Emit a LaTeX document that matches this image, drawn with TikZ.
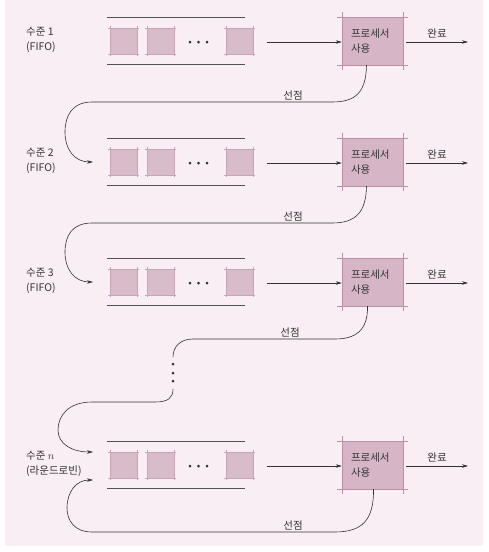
\documentclass[tikz,border=0pt]{standalone}
\usepackage{fontspec}
\setmainfont{Noto Sans CJK KR}
\usetikzlibrary{positioning,arrows.meta,calc}

\definecolor{paper}{HTML}{F8EEF3}
\definecolor{cellfill}{HTML}{D8BCCA}
\definecolor{cellline}{HTML}{C9A3B7}
\definecolor{procfill}{HTML}{D6B6C6}
\definecolor{procline}{HTML}{BC8FA7}
\definecolor{ink}{HTML}{333333}

% edges of a box, run a little past its corners
\newcommand\cropedges[3]{%
  \draw[#3,line width=0.5pt] ($(#1.north west)+(-#2,0)$) -- ($(#1.north east)+(#2,0)$);
  \draw[#3,line width=0.5pt] ($(#1.south west)+(-#2,0)$) -- ($(#1.south east)+(#2,0)$);
  \draw[#3,line width=0.5pt] ($(#1.north west)+(0,-#2)$) -- ($(#1.south west)+(0,#2)$);
  \draw[#3,line width=0.5pt] ($(#1.north east)+(0,-#2)$) -- ($(#1.south east)+(0,#2)$);
}

\begin{document}
\begin{tikzpicture}[x=1pt,y=-1pt,>={Stealth[length=6pt,width=3.5pt]},
  font=\fontsize{10.5pt}{14.5pt}\selectfont, text=ink,
  cell/.style={fill=cellfill,minimum width=27pt,minimum height=26pt,inner sep=0pt},
  procbox/.style={fill=procfill,minimum width=61pt,minimum height=48pt,
    text width=43pt,align=left,inner sep=0pt},
  lvl/.style={anchor=west,align=left,inner sep=0pt},
  rail/.style={draw=ink!85,line width=0.7pt},
  flow/.style={draw=ink,line width=0.6pt,->}]
  \fill[paper] (5,0) rectangle (483,546);
  \useasboundingbox (0,0) rectangle (489,552);

  % one row per level
  \foreach \i/\c/\lab in {1/41/{수준 1\\(FIFO)},2/162/{수준 2\\(FIFO)},
                          3/282/{수준 3\\(FIFO)},n/465/{수준 $n$\\(라운드로빈)}} {
    \node[lvl] (lvl\i) at (26,\c-1) {\lab};
    \draw[rail] (107,\c-24) -- (245,\c-24);
    \draw[rail] (107,\c+23) -- (245,\c+23);
    \node[cell] (cellA\i) at (123.5,\c) {};
    \node[cell] (cellB\i) at (160.5,\c) {};
    \node[cell] (cellC\i) at (239.5,\c) {};
    \cropedges{cellA\i}{2}{cellline}
    \cropedges{cellB\i}{2}{cellline}
    \cropedges{cellC\i}{2}{cellline}
    \foreach \x in {190,198.5,207} {\fill[ink] (\x,\c+1) circle (1.5);}
    \node[procbox] (proc\i) at (372.5,\c) {프로세서\\사용};
    \cropedges{proc\i}{5}{procline}
    \coordinate (qout\i) at (267,\c+1);
    \draw[flow] (qout\i) -- (proc\i.west|-qout\i);
    \coordinate (done\i) at (468,\c+1);
    \draw[flow] ($(proc\i.east)+(3,1)$) -- (done\i)
      node[midway,above,inner sep=4pt] (end\i) {완료};
  }

  % preemption back to the next level
  \coordinate (qin2) at (93,162);
  \coordinate (qin3) at (93,282);
  \coordinate (qinA) at (93,452);
  \coordinate (qinB) at (93,480);
  \draw[flow] ($(proc1.south)+(-6,0)$) .. controls (366,92) and (356,102) .. (332,102)
    -- (92,102) .. controls (72,102) and (65,116) .. (65,132)
    .. controls (65,150) and (75,162) .. (qin2);
  \node[above,inner sep=2pt] (pre1) at (293,102) {선점};
  \draw[flow] ($(proc2.south)+(-6,0)$) .. controls (366,212) and (356,223) .. (332,223)
    -- (92,223) .. controls (72,223) and (65,236) .. (65,252)
    .. controls (65,270) and (75,282) .. (qin3);
  \node[above,inner sep=2pt] (pre2) at (293,223) {선점};
  \coordinate (gapTop) at (173,357);
  \coordinate (gapBot) at (173,389);
  \draw[ink,line width=0.6pt] ($(proc3.south)+(-5,0)$) .. controls (368,330) and (356,339) .. (335,339)
    -- (193,339) .. controls (180,339) and (173,347) .. (gapTop);
  \node[above,inner sep=2pt] (pre3) at (290,339) {선점};
  \foreach \y in {364,373,381} {\fill[ink] (173,\y) circle (1.5);}
  \draw[flow] (gapBot) .. controls (173,398) and (168,402) .. (155,402)
    -- (92,402) .. controls (68,402) and (58,416) .. (58,430)
    .. controls (58,444) and (72,452) .. (qinA);
  \draw[flow] ($(procn.south)+(1,0)$) .. controls (374,520) and (362,532) .. (335,532)
    -- (92,532) .. controls (74,532) and (67,520) .. (67,508)
    .. controls (67,492) and (76,480) .. (qinB);
  \node[above,inner sep=2pt] (pren) at (293,532) {선점};
\end{tikzpicture}
\end{document}
